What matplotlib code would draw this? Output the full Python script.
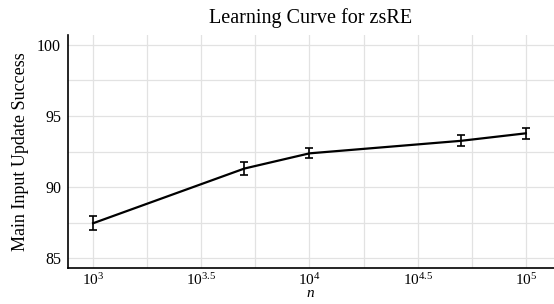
import numpy as np
import matplotlib
matplotlib.use("Agg")
import matplotlib.pyplot as plt

# 数据
n_values = [1000, 5000, 10000, 50000, 100000]
success = [87.45, 91.3, 92.37, 93.25, 93.78]
err = [0.5, 0.43, 0.36, 0.38, 0.38]

xtick_pos = [1e3, 10**3.5, 1e4, 10**4.5, 1e5]
xtick_labels = [r"$10^{3}$", r"$10^{3.5}$", r"$10^{4}$", r"$10^{4.5}$", r"$10^{5}$"]
ytick_pos = [85, 90, 95, 100]

plt.rcParams['font.family'] = ['Liberation Serif', 'DejaVu Serif']
plt.rcParams['mathtext.fontset'] = 'custom'
plt.rcParams['mathtext.rm'] = 'Liberation Serif'
plt.rcParams['mathtext.it'] = 'Liberation Serif:italic'

fig = plt.figure(figsize=(5.54, 3.04), dpi=100)
ax = fig.add_axes([68/554, 1-268/304, (554-68)/554, (268-35)/304])

ax.errorbar(n_values, success, yerr=err, color='black', lw=1.6,
            elinewidth=1.2, capsize=3, capthick=1.2)

ax.set_xscale('log')
ax.set_xlim(10**2.884, 10**5.13)
ax.set_ylim(84.3, 100.7)

ax.set_xticks(xtick_pos)
ax.set_xticklabels(xtick_labels)
ax.set_xticks([10**3.25, 10**3.75, 10**4.25, 10**4.75], minor=True)
ax.set_yticks(ytick_pos)
ax.set_yticks([87.5, 92.5, 97.5], minor=True)
ax.tick_params(which='both', length=0, labelsize=11.5, pad=5)
ax.tick_params(axis='x', labelsize=11, pad=3)
ax.xaxis.set_minor_formatter(plt.NullFormatter())

ax.grid(True, which='both', color='#e2e2e2', lw=0.9)
ax.set_axisbelow(True)
for s in ['top', 'right']:
    ax.spines[s].set_visible(False)
for s in ['left', 'bottom']:
    ax.spines[s].set_linewidth(1.2)

ax.set_title("Learning Curve for zsRE", fontsize=14.5, pad=9)
ax.set_xlabel("$n$", fontsize=11, labelpad=-1)
ax.set_ylabel("Main Input Update Success", fontsize=13, labelpad=6)

fig.savefig("out.png", dpi=100)
